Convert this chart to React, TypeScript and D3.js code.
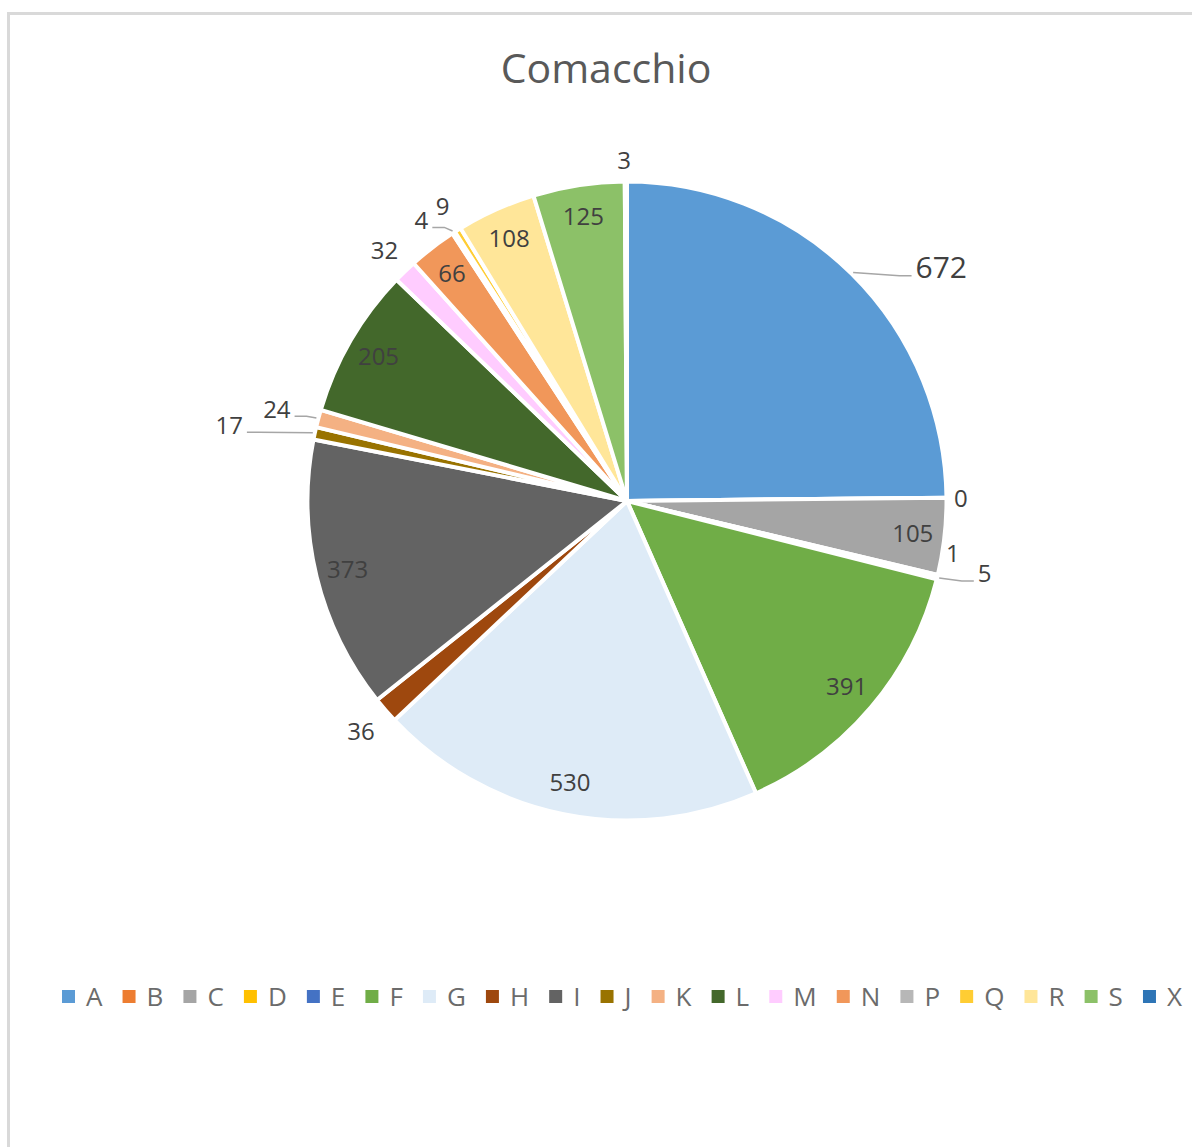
import React, { useEffect, useRef } from 'react';
import * as d3 from 'd3';

const title = 'Comacchio';
const categories = ['A', 'B', 'C', 'D', 'E', 'F', 'G', 'H', 'I', 'J', 'K', 'L', 'M', 'N', 'P', 'Q', 'R', 'S', 'X'];
const values = [672, 0, 105, 1, 5, 391, 530, 36, 373, 17, 24, 205, 32, 66, 4, 9, 108, 125, 3];
const colors = ['#5B9BD5', '#ED7D31', '#A5A5A5', '#FFC000', '#4472C4', '#70AD47', '#DEEBF7', '#9E480E', '#636363', '#997300', '#F4B183', '#43682B', '#FFCCFF', '#F1975A', '#B7B7B7', '#FFCD33', '#FFE699', '#8CC168', '#2E75B6'];

// Label layout (not data): inside labels sit at 0.9 r; outside labels use polar overrides
const insideLabels = ['C', 'F', 'G', 'I', 'L', 'N', 'R', 'S'];
const outsideLayout: Record<string, { r: number; a: number | null; leader?: boolean; fs?: number }> = {
  A: { r: 392, a: 53.3, leader: true, fs: 30 },
  B: { r: 334, a: 89.6 },
  D: { r: 330, a: 99.1 },
  E: { r: 365, a: 101.5, leader: true },
  H: { r: 352, a: null },
  J: { r: 405, a: 280.8, leader: true },
  K: { r: 362, a: 284.7, leader: true },
  M: { r: 349, a: null },
  P: { r: 348, a: 323.8, leader: true },
  Q: { r: 348, a: null },
  X: { r: 341, a: 359.5 },
};

const W = 1192;
const H = 1147;
const CX = 627;
const CY = 501;
const R = 319.5;
const FONT = "'Open Sans', 'DejaVu Sans', sans-serif";

export default function App() {
  const ref = useRef<SVGSVGElement | null>(null);

  useEffect(() => {
    const svg = d3.select(ref.current);
    svg.selectAll('*').remove();

    svg.append('rect').attr('x', 0).attr('y', 0).attr('width', W).attr('height', H).attr('fill', '#fff');
    svg.append('rect')
      .attr('x', 8.5).attr('y', 13.5).attr('width', W + 100).attr('height', H + 100)
      .attr('fill', 'none').attr('stroke', '#d9d9d9').attr('stroke-width', 3);

    svg.append('text')
      .attr('x', 606).attr('y', 83)
      .attr('text-anchor', 'middle')
      .attr('font-family', FONT).attr('font-size', 41)
      .attr('fill', '#595959')
      .text(title);

    const data = categories.map((c, i) => ({ cat: c, value: values[i], color: colors[i] }));
    const pie = d3.pie<any>().sort(null).value((d: any) => d.value).startAngle(0).endAngle(2 * Math.PI);
    const arcs = pie(data);
    const arc = d3.arc<any>().innerRadius(0).outerRadius(R);

    const g = svg.append('g').attr('transform', `translate(${CX},${CY})`);
    g.selectAll('path.slice')
      .data(arcs)
      .enter()
      .append('path')
      .attr('class', 'slice')
      .attr('d', arc as any)
      .attr('fill', (d: any) => d.data.color)
      .attr('stroke', '#fff')
      .attr('stroke-width', 4)
      .attr('stroke-linejoin', 'miter');

    const polar = (r: number, aRad: number) => [r * Math.sin(aRad), -r * Math.cos(aRad)];

    arcs.forEach((d: any) => {
      const cat = d.data.cat;
      const mid = (d.startAngle + d.endAngle) / 2;
      let x: number, y: number, fs = 24;
      const lay = outsideLayout[cat];
      if (insideLabels.includes(cat)) {
        [x, y] = polar(R * 0.9, mid);
      } else if (lay) {
        const a = lay.a === null ? mid : (lay.a * Math.PI) / 180;
        [x, y] = polar(lay.r, a);
        if (lay.fs) fs = lay.fs;
      } else {
        [x, y] = polar(R + 28, mid);
      }
      const t = g.append('text')
        .attr('x', x).attr('y', y + fs * 0.36)
        .attr('text-anchor', 'middle')
        .attr('font-family', FONT).attr('font-size', fs)
        .attr('fill', '#404040')
        .text(String(d.data.value));

      if (lay && lay.leader) {
        const w = (t.node() as SVGTextElement).getComputedTextLength();
        const side = x >= 0 ? -1 : 1;
        const [sx, sy] = polar(R + 2, mid);
        const ex = x + side * (w / 2 + 4);
        const ey = y + fs * 0.3;
        const p = d3.path();
        p.moveTo(sx, sy);
        p.lineTo(ex + side * 12, ey);
        p.lineTo(ex, ey);
        g.append('path')
          .attr('d', p.toString())
          .attr('fill', 'none')
          .attr('stroke', '#a6a6a6')
          .attr('stroke-width', 1.5);
      }
    });

    // Legend
    const lg = svg.append('g');
    const sq = 13;
    const letterOffset = 24;
    const items = data.map((d) => {
      const it = lg.append('g');
      it.append('rect').attr('x', 0).attr('y', -sq / 2).attr('width', sq).attr('height', sq).attr('fill', d.color);
      const tx = it.append('text')
        .attr('x', letterOffset).attr('y', 26 * 0.36)
        .attr('font-family', FONT).attr('font-size', 26)
        .attr('fill', '#6b6b6b')
        .text(d.cat);
      const w = (tx.node() as SVGTextElement).getComputedTextLength();
      return { it, w };
    });
    const startX = 62;
    const endX = 1182;
    const sumW = items.reduce((s, o) => s + letterOffset + o.w, 0);
    const gap = (endX - startX - sumW) / (items.length - 1);
    let cx = startX;
    items.forEach((o) => {
      o.it.attr('transform', `translate(${cx},996.5)`);
      cx += letterOffset + o.w + gap;
    });
  }, []);

  return (
    <svg
      ref={ref}
      width={W}
      height={H}
      style={{ position: 'absolute', left: 0, top: 0, display: 'block' }}
    />
  );
}
